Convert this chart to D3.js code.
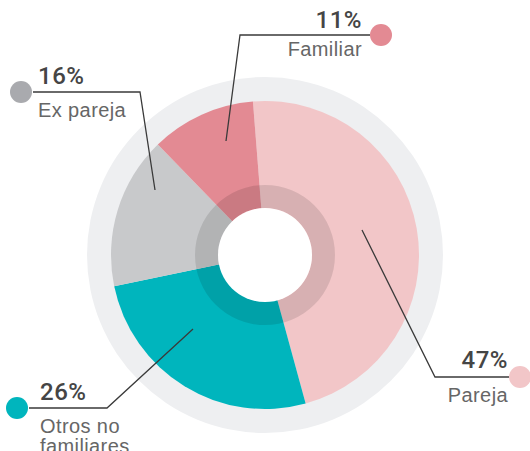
<!DOCTYPE html>
<html><head><meta charset="utf-8">
<script src="https://cdn.jsdelivr.net/npm/d3@7"></script>
<style>
html,body{margin:0;padding:0;background:#fff;}
svg{display:block;}
text.lbl{font-family:"Liberation Sans",Arial,sans-serif;}
text.pct{font-family:Roboto,"Liberation Sans",Arial,sans-serif;}
</style></head>
<body>
<svg id="chart" width="530" height="451"></svg>
<script>
// Data
const categories = ["Pareja", "Otros no familiares", "Ex pareja", "Familiar"];
const values = [47, 26, 16, 11];
const colors = ["#f2c6c8", "#00b5bd", "#c8c9cb", "#e38a93"];
const dotColors = ["#f2c6c8", "#00b5bd", "#a9aaae", "#e38a93"];
const labelLines = [["Pareja"], ["Otros no", "familiares"], ["Ex pareja"], ["Familiar"]];

// Layout (label placements)
const cx = 265, cy = 255;
const layout = [
  {anchor:"end",   tx:508, pctY:368, lblY:402, dot:[520,377], line:[[509,377],[435,377],[362,230]]},
  {anchor:"start", tx:40,  pctY:400, lblY:433, dot:[17,408],  line:[[29,408],[107,408],[193,329]]},
  {anchor:"start", tx:38,  pctY:84,  lblY:117, dot:[21,92],   line:[[33,92],[140,92],[155,190]]},
  {anchor:"end",   tx:362, pctY:28,  lblY:56,  dot:[381,35],  line:[[370,35],[240,35],[226,141]]}
];

const svg = d3.select("#chart");
const g = svg.append("g").attr("transform", `translate(${cx},${cy})`);

// background ring
g.append("circle").attr("r", 178).attr("fill", "#eeeff1");

const start = -4.5 * Math.PI / 180;
const pie = d3.pie().sort(null).value(d => d).startAngle(start).endAngle(start + 2 * Math.PI);
const arcs = pie(values);
const arc = d3.arc().innerRadius(0).outerRadius(154);

g.selectAll("path.slice").data(arcs).join("path")
  .attr("class", "slice")
  .attr("d", arc)
  .attr("fill", (d, i) => colors[i]);

// darker inner ring overlay
g.append("path")
  .attr("d", d3.arc().innerRadius(47).outerRadius(70).startAngle(0).endAngle(2 * Math.PI)())
  .attr("fill", "#000").attr("fill-opacity", 0.11);
g.append("circle").attr("r", 47).attr("fill", "#fff");

// labels
const ann = svg.append("g");
layout.forEach((L, i) => {
  ann.append("polyline")
    .attr("points", L.line.map(p => p.join(",")).join(" "))
    .attr("fill", "none").attr("stroke", "#3a3a3a").attr("stroke-width", 1.3);
  ann.append("circle").attr("cx", L.dot[0]).attr("cy", L.dot[1]).attr("r", 11)
    .attr("fill", dotColors[i]);
  ann.append("text").attr("class", "pct").attr("x", L.tx).attr("y", L.pctY)
    .attr("text-anchor", L.anchor)
    .attr("font-size", 24).attr("font-weight", 500).attr("fill", "#454545")
    .attr("letter-spacing", 0.5)
    .text(values[i] + "%");
  labelLines[i].forEach((t, j) => {
    ann.append("text").attr("class", "lbl").attr("x", L.tx).attr("y", L.lblY + j * 20)
      .attr("text-anchor", L.anchor)
      .attr("font-size", 20).attr("fill", "#666")
      .attr("letter-spacing", 0.4)
      .text(t);
  });
});
</script>
</body></html>
